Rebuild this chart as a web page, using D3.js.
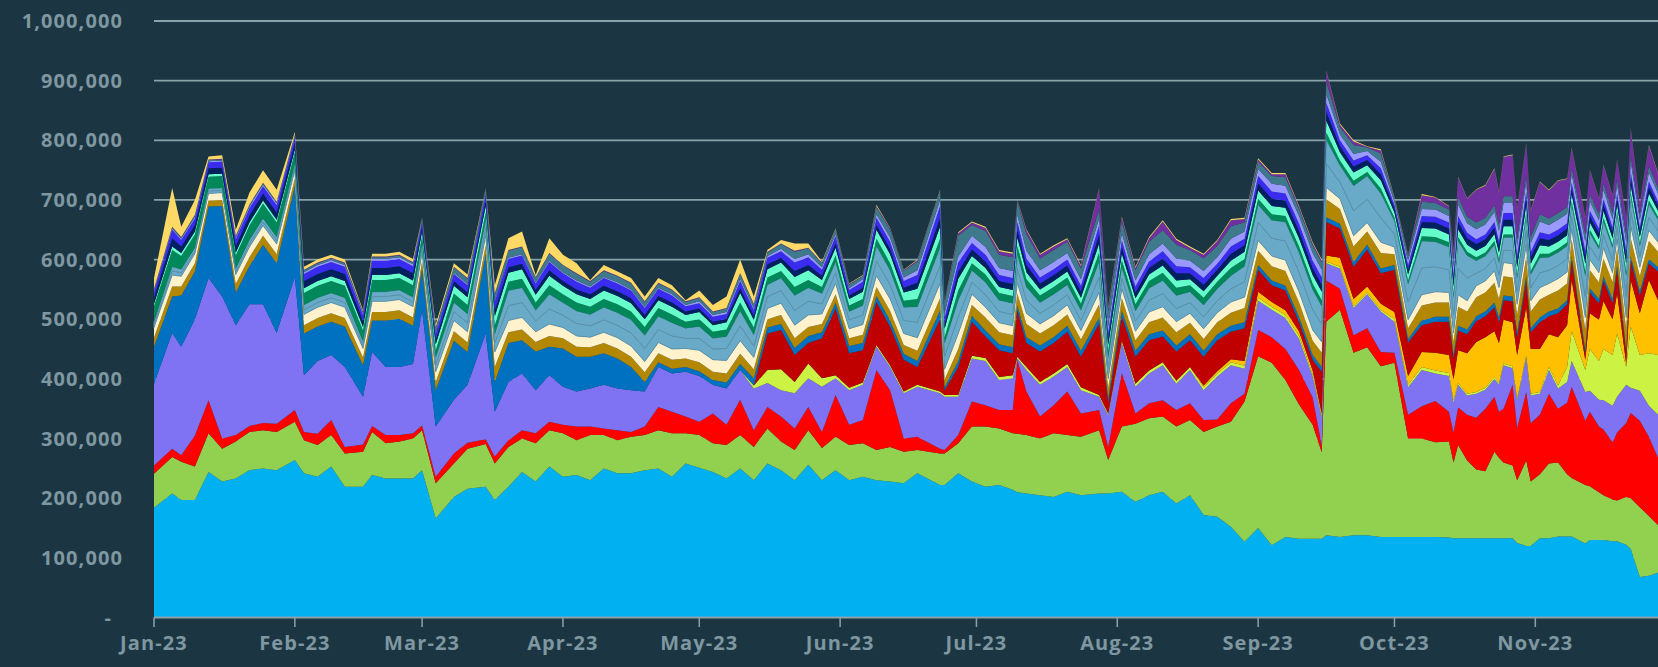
<!DOCTYPE html>
<html>
<meta charset="UTF-8">

<head>
  <script src="https://cdn.jsdelivr.net/npm/d3@7"></script>
  <style>
    body { margin: 0; background: #1b3642; }
    text { font-family: "Open Sans", "DejaVu Sans", sans-serif; font-weight: 700; fill: #7f97a0; }
  </style>
</head>

<body>
  <svg id="chart" width="1658" height="667"></svg>

  <script type="text/javascript">
    // sample dates (2023), values below are in thousands
    const dates = ["01-01","01-05","01-07","01-10","01-13","01-16","01-19","01-22","01-25","01-28",
      "02-01","02-03","02-06","02-09","02-12","02-16","02-18","02-21","02-24","02-27",
      "03-01","03-04","03-08","03-11","03-15","03-17","03-20","03-23","03-26","03-29",
      "04-01","04-04","04-07","04-10","04-13","04-16","04-19","04-22","04-25","04-28",
      "05-01","05-04","05-07","05-10","05-13","05-16","05-19","05-22","05-25","05-28",
      "05-31","06-03","06-06","06-09","06-12","06-15","06-18","06-23","06-24","06-27",
      "06-30","07-03","07-06","07-09","07-10","07-12","07-15","07-18","07-21","07-24",
      "07-28","07-30","08-02","08-05","08-08","08-11","08-14","08-17","08-20","08-23",
      "08-26","08-29","09-01","09-04","09-07","09-10","09-13","09-15","09-16","09-19",
      "09-22","09-25","09-28","10-01","10-04","10-07","10-10","10-13","10-14","10-15",
      "10-17","10-19","10-21","10-23","10-24","10-25","10-27","10-28","10-30","10-31",
      "11-02","11-04","11-06","11-08","11-09","11-12","11-13","11-15","11-16","11-18",
      "11-19","11-21","11-22","11-24","11-26","11-28"]

    const sky = [184,208,197,197,244,228,233,247,250,247,264,242,236,253,219,219,239,233,233,233,
      247,166,202,216,219,197,219,244,228,253,236,239,230,250,242,242,247,250,236,258,
      251,244,233,250,230,258,247,230,256,230,247,230,236,230,228,225,242,222,222,242,
      228,219,222,214,210,208,205,202,211,205,208,208,211,194,205,211,191,205,172,169,
      152,127,150,121,135,132,132,132,138,135,138,138,135,135,135,135,135,134,133,133,
      133,133,133,133,133,133,133,125,120,120,133,133,136,136,136,124,130,130,130,128,
      128,122,115,68,70,75]
    const green = [57,61,64,56,65,55,62,64,64,64,64,55,53,53,56,59,72,59,62,67,
      67,59,56,67,72,61,67,56,64,61,73,58,76,56,55,61,59,64,73,51,
      55,48,56,56,56,59,48,51,58,54,56,59,56,51,58,53,39,53,53,50,
      92,101,95,95,98,98,95,107,95,98,106,56,109,131,129,126,129,126,139,151,
      176,235,288,306,263,225,191,145,358,381,306,315,286,292,165,165,159,161,127,156,
      130,115,112,145,135,127,122,105,143,108,107,125,124,104,98,98,90,80,75,70,
      68,80,85,117,100,80]
    const red = [14,14,11,52,55,17,11,10,12,14,20,14,19,25,11,12,10,14,11,9,
      8,11,17,10,8,12,11,14,17,14,14,23,14,11,17,8,14,39,36,28,
      22,50,34,59,28,36,42,36,39,27,70,34,39,134,95,22,22,8,6,14,
      42,36,31,39,124,73,37,47,73,39,34,22,90,17,25,27,28,28,20,12,
      31,13,44,43,52,58,46,11,69,35,29,32,24,17,40,54,69,50,50,63,
      77,87,105,92,77,90,135,88,115,98,100,117,90,120,153,108,125,110,110,96,
      114,124,143,145,133,113]
    const lavender = [137,194,182,195,205,238,184,204,199,152,223,95,122,109,134,80,124,114,114,116,
      193,84,90,97,177,75,98,95,72,78,64,59,64,73,70,70,59,67,64,75,
      77,48,61,50,70,40,44,59,48,76,28,58,59,39,39,76,84,93,89,64,
      72,74,50,53,2,36,53,48,41,39,22,53,50,45,50,59,44,56,50,72,
      64,42,49,46,52,52,35,46,29,34,46,57,68,52,46,61,46,60,50,38,
      32,40,32,30,45,73,28,46,58,46,35,40,34,35,43,48,35,45,49,61,
      60,64,42,50,52,72]
    const lime = [0,0,0,0,0,0,0,0,0,0,0,0,0,0,0,0,0,0,0,0,
      0,0,0,0,0,0,0,0,0,0,0,0,0,0,0,0,0,0,0,0,
      0,0,0,0,5,22,35,19,25,14,5,4,4,3,3,3,3,3,3,3,
      5,5,5,5,3,5,5,5,5,5,3,3,4,5,5,5,5,5,5,5,
      5,5,5,5,5,5,4,3,3,3,3,3,3,4,4,5,5,5,4,3,
      3,3,3,3,3,3,3,3,3,3,3,5,5,25,50,37,70,65,86,85,
      106,30,103,60,88,100]
    const orange = [0,0,0,0,0,0,0,0,0,0,0,0,0,0,0,0,0,0,0,0,
      0,0,0,0,0,0,0,0,0,0,0,0,0,0,0,0,0,0,0,0,
      0,0,0,0,0,0,0,0,0,0,0,0,0,0,0,0,0,0,0,0,
      0,0,0,0,0,0,0,0,0,0,0,0,0,0,0,0,0,0,3,4,
      5,8,10,8,8,8,6,5,10,15,12,10,10,12,15,25,30,30,35,55,
      68,84,85,77,67,73,74,73,81,75,72,55,81,70,86,17,60,69,80,60,
      67,6,78,70,123,92]
    const darkRed = [0,0,0,0,0,0,0,0,0,0,0,0,0,0,0,0,0,0,0,0,
      0,0,0,0,0,0,0,0,0,0,0,0,0,0,0,0,0,0,0,0,
      0,0,0,0,0,61,66,45,34,67,112,58,54,72,65,53,30,121,8,47,
      57,36,45,37,78,40,51,51,54,51,120,17,41,45,51,43,49,45,48,52,
      46,55,37,28,33,16,18,70,56,49,54,62,51,71,56,45,52,56,35,33,
      32,35,35,40,35,33,35,30,45,28,45,30,40,35,33,11,35,28,35,27,
      40,17,33,30,28,48]
    const blue = [62,61,86,80,120,152,55,64,100,117,153,70,58,56,68,53,53,78,81,64,
      70,61,99,55,134,50,65,56,65,48,64,58,53,53,50,39,16,8,8,8,
      8,8,10,10,12,10,10,12,12,10,10,12,12,10,10,10,10,15,5,10,
      10,10,10,10,8,10,10,10,10,10,10,8,10,10,10,10,10,10,10,10,
      10,10,8,8,8,8,8,8,8,8,8,8,8,8,6,8,8,8,6,8,
      8,8,8,8,8,8,8,7,8,7,8,8,8,7,7,5,7,7,7,7,
      7,5,7,7,7,7]
    const goldenrod = [15,17,15,14,10,10,14,15,15,15,12,14,14,14,14,13,14,14,14,14,
      12,14,16,16,14,25,18,18,16,18,17,17,16,17,17,17,16,15,15,14,
      15,14,15,17,15,14,15,16,15,14,14,13,14,15,16,15,17,20,13,20,
      18,22,20,20,20,22,20,20,19,19,22,18,20,18,20,22,22,19,20,20,
      22,24,24,24,25,24,24,24,30,25,26,22,26,18,18,25,24,24,22,32,
      30,32,32,33,31,32,32,30,32,28,30,28,30,28,28,35,30,28,30,28,
      28,35,30,25,30,26]
    const cream = [17,19,17,16,12,12,16,17,17,17,14,18,18,18,18,15,18,18,18,18,
      14,17,18,18,16,25,20,20,17,20,18,18,17,18,18,18,18,18,18,17,
      20,20,22,22,20,18,20,22,20,17,18,16,17,19,20,19,22,25,17,26,
      18,17,16,16,18,18,16,16,16,15,20,15,16,15,17,18,18,16,17,16,
      18,18,17,17,18,18,18,18,20,17,18,15,18,12,14,18,18,17,15,20,
      18,19,19,20,19,23,23,18,20,18,20,19,20,19,18,20,18,16,18,16,
      17,20,20,15,18,16]
    const steelA = [5,7,6,5,4,4,5,6,6,6,5,8,8,8,8,6,8,8,8,8,
      8,12,15,15,13,15,25,25,18,25,21,21,19,21,21,22,22,22,22,17,
      20,18,20,25,19,20,21,25,23,17,18,15,16,25,24,22,26,30,22,28,
      20,21,19,19,24,22,18,18,17,17,26,18,18,17,20,22,22,18,20,20,
      22,26,30,30,32,33,34,30,40,28,42,39,41,22,30,45,42,38,30,45,
      38,21,21,22,21,21,22,22,24,22,25,22,22,22,20,35,22,20,22,21,
      21,35,25,18,22,19]
    const steelB = [5,7,6,5,4,4,5,6,6,6,5,8,8,8,8,6,8,8,8,8,
      8,12,15,15,13,15,25,25,18,25,21,21,19,21,21,22,22,22,22,17,
      20,18,20,25,19,20,21,25,23,17,18,14,16,25,24,22,26,30,22,28,
      20,21,19,19,24,22,18,18,17,17,26,18,18,17,20,22,22,18,20,20,
      22,26,30,30,32,33,34,30,40,28,42,39,41,22,30,45,42,38,30,45,
      38,21,21,22,21,21,22,22,24,22,25,22,22,22,20,35,22,20,22,21,
      21,35,25,18,22,19]
    const darkGreen = [26,28,22,22,20,20,22,24,25,24,20,20,20,20,20,18,20,20,20,20,
      12,12,15,15,13,15,15,15,13,15,14,14,13,14,14,14,14,14,14,11,
      12,11,12,14,12,12,12,14,13,11,11,10,11,12,12,11,13,15,10,16,
      12,13,12,12,14,13,12,12,12,11,15,11,12,11,12,13,13,11,12,12,
      13,12,10,10,10,10,10,10,12,8,8,7,8,5,6,8,8,8,6,7,
      6,6,6,6,6,5,5,6,6,6,7,6,6,6,6,7,6,5,6,5,
      5,7,6,5,6,5]
    const aqua = [4,6,5,5,4,4,5,5,5,5,5,8,8,8,8,6,8,8,8,8,
      8,10,13,13,11,15,15,16,13,16,14,14,13,14,14,14,13,13,13,11,
      12,11,12,16,13,14,14,17,16,12,13,11,12,15,15,14,17,20,14,20,
      12,11,10,10,14,12,10,10,10,10,15,10,11,10,11,12,12,10,11,10,
      12,12,14,14,14,14,14,14,20,14,14,11,14,9,10,14,14,13,12,13,
      12,11,11,12,11,14,14,12,13,12,14,12,12,12,12,13,12,11,12,11,
      11,13,13,10,12,10]
    const navy = [10,14,11,11,10,10,11,12,12,12,10,12,12,12,12,10,12,12,12,12,
      8,8,8,8,8,10,9,9,8,9,8,8,8,8,8,8,7,7,7,6,
      6,6,6,8,7,8,8,10,9,7,8,6,7,8,9,8,10,15,8,12,
      11,11,10,10,13,12,10,10,10,10,15,10,11,10,11,12,12,10,11,10,
      12,11,12,12,12,12,12,12,15,10,10,9,10,7,8,10,10,10,10,12,
      11,11,11,11,11,11,11,11,12,11,12,11,11,11,10,12,11,10,11,10,
      10,12,12,9,11,9]
    const brightBlue = [10,14,11,11,10,10,11,12,12,12,10,12,12,12,12,10,12,12,12,12,
      8,10,12,12,11,15,14,14,11,14,13,13,11,13,13,13,12,12,12,9,
      9,8,8,12,10,11,11,14,13,10,11,9,10,12,12,11,13,20,11,15,
      11,11,10,10,13,11,10,10,10,10,15,10,11,10,11,12,12,10,11,10,
      12,11,12,12,12,12,12,12,15,10,10,8,10,6,8,10,10,10,9,10,
      9,8,8,9,8,11,11,9,10,9,10,9,9,9,9,10,9,8,9,8,
      8,10,10,7,9,7]
    const lilac = [2,2,2,3,2,2,3,3,3,3,2,3,3,3,3,3,3,3,3,3,
      2,2,2,2,2,2,2,2,2,2,2,2,2,2,2,2,2,2,2,2,
      3,3,3,4,3,3,4,6,5,4,4,3,4,6,7,6,8,10,7,10,
      12,13,12,12,12,13,12,12,11,11,12,11,12,10,12,13,13,11,12,11,
      13,12,12,13,13,13,13,13,15,10,11,7,11,5,7,12,12,11,14,20,
      16,17,17,17,17,17,17,16,17,15,18,16,17,16,15,15,16,14,15,14,
      15,15,17,13,15,13]
    const grayTeal = [2,2,2,2,2,2,2,2,2,2,2,3,3,3,3,2,3,3,3,3,
      3,7,9,9,7,10,12,12,8,12,11,11,8,10,10,10,8,7,7,5,
      6,5,6,8,6,6,8,12,10,7,7,6,5,12,13,11,15,15,17,35,
      18,27,22,23,22,28,20,20,19,18,15,25,20,17,21,22,23,18,21,19,
      21,15,12,13,14,12,13,12,20,12,15,6,14,5,8,12,11,11,12,12,
      11,11,11,11,11,11,11,11,12,10,12,11,11,11,10,12,11,10,11,10,
      10,12,11,9,11,9]
    const purple = [1,1,1,1,1,1,1,1,1,1,1,1,1,1,1,1,1,1,1,1,
      1,1,1,1,1,1,1,1,1,1,1,1,1,1,1,1,1,1,1,1,
      1,1,1,1,1,1,1,2,1,1,1,1,1,2,2,1,2,1,2,4,
      4,5,6,6,2,6,6,6,4,4,35,5,6,4,6,15,8,4,6,8,
      10,6,4,3,5,3,3,3,18,4,6,1,5,1,2,11,9,5,12,33,
      30,55,54,61,54,66,69,51,51,44,54,47,54,47,32,29,40,26,30,29,
      30,29,44,17,34,24]
    const yellow = [18,65,17,25,5,6,10,20,21,20,4,5,5,5,5,2,5,5,5,5,
      1,5,6,6,1,14,20,25,3,25,17,17,2,9,7,8,8,8,7,2,
      11,11,19,23,12,3,6,12,7,2,1,1,1,2,1,1,1,1,1,2,
      2,2,2,2,1,2,2,2,2,2,1,2,2,2,2,2,2,2,2,2,
      2,2,2,2,2,2,2,2,1,2,2,1,2,1,1,2,1,1,2,1,
      1,1,1,1,1,1,1,1,1,1,1,1,1,1,1,1,1,1,1,1,
      1,1,1,1,1,1]

    const layers = [
      { key: "sky", values: sky, color: "#00b0f0" },
      { key: "green", values: green, color: "#92d050" },
      { key: "red", values: red, color: "#ff0000" },
      { key: "lavender", values: lavender, color: "#7f73f4" },
      { key: "lime", values: lime, color: "#ccf244" },
      { key: "orange", values: orange, color: "#ffc000" },
      { key: "darkRed", values: darkRed, color: "#c00000" },
      { key: "blue", values: blue, color: "#0070c0" },
      { key: "goldenrod", values: goldenrod, color: "#b38800" },
      { key: "cream", values: cream, color: "#fff2cc" },
      { key: "steelA", values: steelA, color: "#69aac8" },
      { key: "steelB", values: steelB, color: "#69aac8" },
      { key: "darkGreen", values: darkGreen, color: "#00875a" },
      { key: "aqua", values: aqua, color: "#66ffcc" },
      { key: "navy", values: navy, color: "#002060" },
      { key: "brightBlue", values: brightBlue, color: "#3a2bf0" },
      { key: "lilac", values: lilac, color: "#9999ff" },
      { key: "grayTeal", values: grayTeal, color: "#3f7a8c" },
      { key: "purple", values: purple, color: "#7030a0" },
      { key: "yellow", values: yellow, color: "#ffd966" }
    ]

    const yTicks = [0, 100000, 200000, 300000, 400000, 500000, 600000, 700000, 800000, 900000, 1000000]
    const monthTicks = ["2023-01-01","2023-02-01","2023-03-01","2023-04-01","2023-05-01","2023-06-01",
      "2023-07-01","2023-08-01","2023-09-01","2023-10-01","2023-11-01"]

    const parse = d3.timeParse("%Y-%m-%d")
    const rows = dates.map((d, i) => {
      const r = { date: parse("2023-" + d) }
      layers.forEach(l => r[l.key] = l.values[i] * 1000)
      return r
    })

    const x = d3.scaleTime()
      .domain([parse("2023-01-01"), parse("2023-11-28")])
      .range([154, 1658])
    const y = d3.scaleLinear()
      .domain([0, 1000000])
      .range([617.5, 21])

    const svg = d3.select("#chart")

    // gridlines
    svg.append("g")
      .selectAll("line")
      .data(yTicks.filter(t => t > 0))
      .enter()
      .append("line")
      .attr("x1", 154).attr("x2", 1658)
      .attr("y1", d => y(d)).attr("y2", d => y(d))
      .style("stroke", "#8aa2aa")
      .style("stroke-width", "1.8px")

    const stacked = d3.stack().keys(layers.map(l => l.key))(rows)

    const area = d3.area()
      .x(d => x(d.data.date))
      .y0(d => y(d[0]))
      .y1(d => y(d[1]))

    svg.append("g")
      .selectAll("path")
      .data(stacked)
      .enter()
      .append("path")
      .attr("d", area)
      .style("fill", (d, i) => layers[i].color)
      .style("stroke", d => d.key.startsWith("steel") ? "#5a90aa" : "none")
      .style("stroke-width", "0.8px")

    // y labels
    svg.append("g")
      .selectAll("text")
      .data(yTicks)
      .enter()
      .append("text")
      .attr("x", d => d === 0 ? 112 : 123)
      .attr("y", d => y(d) + 7)
      .style("text-anchor", "end")
      .style("font-size", "20px")
      .style("letter-spacing", "1.1px")
      .text(d => d === 0 ? "-" : d3.format(",")(d))

    // x axis
    const xg = svg.append("g")
    xg.append("line")
      .attr("x1", 154).attr("x2", 1658)
      .attr("y1", 617.5).attr("y2", 617.5)
      .style("stroke", "#8aa2aa")
      .style("stroke-width", "2px")
    xg.selectAll("line.tick")
      .data(monthTicks)
      .enter()
      .append("line")
      .attr("class", "tick")
      .attr("x1", d => x(parse(d))).attr("x2", d => x(parse(d)))
      .attr("y1", 617.5).attr("y2", 627)
      .style("stroke", "#8aa2aa")
      .style("stroke-width", "1.5px")
    xg.selectAll("text")
      .data(monthTicks)
      .enter()
      .append("text")
      .attr("x", d => x(parse(d)))
      .attr("y", 650)
      .style("text-anchor", "middle")
      .style("font-size", "20px")
      .style("letter-spacing", "1.1px")
      .text(d => d3.timeFormat("%b-%y")(parse(d)))
  </script>
</body>

</html>
